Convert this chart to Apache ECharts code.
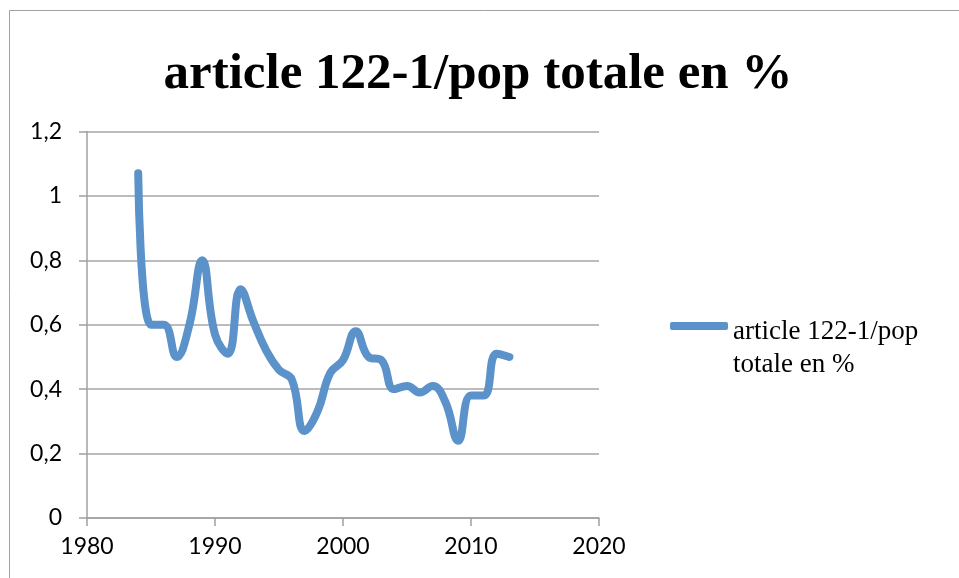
<!DOCTYPE html>
<html>
<head>
<meta charset="utf-8">
<script src="https://cdn.jsdelivr.net/npm/echarts@6/dist/echarts.min.js"></script>
<style>
  html, body { margin: 0; padding: 0; background: #fff; }
  #main { width: 959px; height: 578px; }
</style>
</head>
<body>
<div id="main"></div>
<script>
// données
const years = [1984, 1985, 1986, 1987, 1988, 1989, 1990, 1991, 1992, 1993,
  1994, 1995, 1996, 1997, 1998, 1999, 2000, 2001, 2002, 2003,
  2004, 2005, 2006, 2007, 2008, 2009, 2010, 2011, 2012, 2013]
const values = [1.07, 0.60, 0.60, 0.50, 0.60, 0.80, 0.57, 0.51, 0.71, 0.61,
  0.52, 0.46, 0.43, 0.27, 0.33, 0.45, 0.49, 0.58, 0.50, 0.49,
  0.40, 0.41, 0.39, 0.41, 0.36, 0.24, 0.38, 0.38, 0.51, 0.50]
const yTickLabels = ['0', '0,2', '0,4', '0,6', '0,8', '1', '1,2']
const seriesName = 'article 122-1/pop totale en %'

const chart = echarts.init(document.getElementById('main'))

const option = {
  backgroundColor: '#fff',
  animation: false,
  title: {
    text: seriesName,
    left: 473,
    textAlign: 'center',
    top: 44,
    textStyle: {
      fontFamily: 'Liberation Serif',
      fontWeight: 'bold',
      fontSize: 51,
      color: '#000'
    }
  },
  graphic: [{
    type: 'rect',
    shape: { x: 9.5, y: 10.5, width: 1000, height: 1000 },
    style: { fill: 'none', stroke: '#a0a0a0', lineWidth: 1 }
  }],
  legend: {
    left: 670,
    top: 288,
    padding: 0,
    icon: 'roundRect',
    itemWidth: 58,
    itemHeight: 8,
    // libellé sur deux lignes, décalé sous le trait comme dans Excel
    formatter: () => '{gap| }\n{t|article 122-1/pop}\n{t|totale en %}',
    textStyle: {
      fontFamily: 'Liberation Serif',
      fontSize: 27,
      color: '#000',
      rich: {
        gap: { fontSize: 10, lineHeight: 45 },
        t: { fontFamily: 'Liberation Serif', fontSize: 27, lineHeight: 33, color: '#000' }
      }
    },
    data: [seriesName]
  },
  grid: {
    left: 87,
    right: 360,
    top: 131.5,
    bottom: 60
  },
  xAxis: {
    type: 'value',
    min: 1980,
    max: 2020,
    interval: 10,
    axisLine: { lineStyle: { color: '#a0a0a0', width: 1.5 } },
    axisTick: { show: true, length: 8, lineStyle: { color: '#a0a0a0', width: 1.5 } },
    splitLine: { show: false },
    axisLabel: {
      margin: 17,
      fontFamily: 'Lato',
      fontSize: 23,
      color: '#000',
      formatter: (v) => String(v)
    }
  },
  yAxis: {
    type: 'value',
    min: 0,
    max: 1.2,
    interval: 0.2,
    axisLine: { show: true, lineStyle: { color: '#a0a0a0', width: 1.5 } },
    axisTick: { show: true, length: 8, lineStyle: { color: '#a0a0a0', width: 1.5 } },
    splitLine: { lineStyle: { color: '#a6a6a6', width: 1.5 } },
    axisLabel: {
      margin: 25,
      fontFamily: 'Lato',
      fontSize: 23,
      color: '#000',
      formatter: (v) => yTickLabels[Math.round(v / 0.2)]
    }
  },
  series: [{
    name: seriesName,
    type: 'line',
    smooth: 0.45,
    showSymbol: false,
    color: '#5b92c9',
    lineStyle: { width: 8, cap: 'round', join: 'round', color: '#5b92c9' },
    data: years.map((y, i) => [y, values[i]])
  }]
}

chart.setOption(option)
</script>
</body>
</html>
